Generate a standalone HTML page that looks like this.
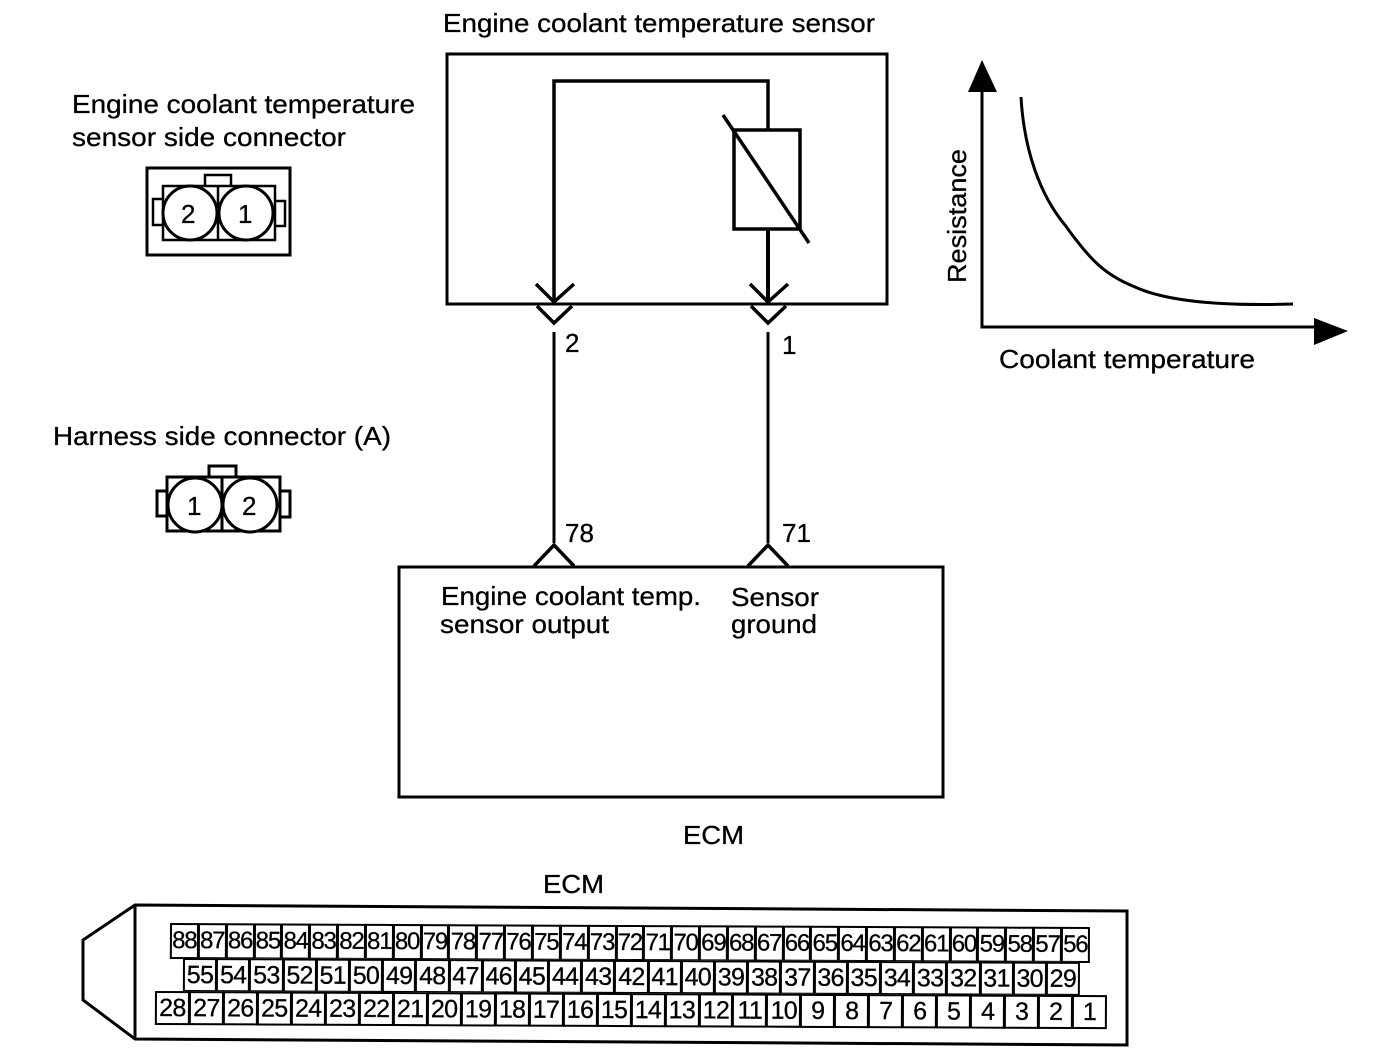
<!DOCTYPE html>
<html><head><meta charset="utf-8"><style>
html,body{margin:0;padding:0;background:#fff}
#p{position:relative;width:1392px;height:1058px;overflow:hidden;background:#fff;font-family:"Liberation Sans",sans-serif;color:#000}
svg{position:absolute;left:0;top:0}
text{font-family:"Liberation Sans",sans-serif;fill:#000;stroke:#000;stroke-width:.3px}
.r{position:absolute;display:flex;transform:rotate(.25deg);transform-origin:0 0;background:#fff}
.r div{flex:1 1 0;box-sizing:border-box;border:2px solid #000;margin-right:-1px;display:flex;align-items:center;justify-content:center;letter-spacing:-.5px;-webkit-text-stroke:.3px #000}
.a div{font-size:24px;letter-spacing:-1.2px}
.b div,.c div{font-size:25px;letter-spacing:-.7px}
</style></head><body><div id="p">
<svg width="1392" height="1058" viewBox="0 0 1392 1058">
<g fill="none" stroke="#000" stroke-width="3">
<rect x="447" y="54" width="440" height="250"/>
<path d="M554 304V81H768V130" stroke-width="3.5"/>
<rect x="734" y="130" width="66" height="99" stroke-width="3.5"/>
<path d="M723 115L809 243" stroke-width="3.5"/>
<path d="M768 229V304" stroke-width="4"/>
<path d="M536 284L554 302L574 284M537 306L554 323L572 306M750 284L768 302L788 284M751 306L768 323L786 306" stroke-width="3.5"/>
<path d="M554 332V543M768 332V543"/>
<path d="M534 566L554 545L574 566M748 566L768 545L788 566" stroke-width="3.5"/>
<rect x="399" y="567" width="544" height="230"/>
<path d="M982 90V327H1316"/>
<path d="M1021 97C1024 150 1040 195 1065 225C1090 260 1105 275 1135 287C1170 303 1230 306 1293 304" stroke-width="3"/>
<rect x="147" y="168" width="143" height="87"/>
<rect x="163" y="186" width="112" height="54" stroke-width="2.5"/>
<path d="M218 186V240M205 186V175H231V186M163 199H153V225H163M275 201H285V226H275" stroke-width="2.5"/>
<circle cx="190" cy="213" r="27" fill="#fff"/><circle cx="246" cy="213" r="27" fill="#fff"/>
<rect x="167" y="477" width="113" height="54" stroke-width="3"/>
<path d="M222 477V531M209 477V466H236V477M167 491H157V516H167M280 491H290V517H280" stroke-width="3"/>
<circle cx="195" cy="505" r="27" fill="#fff"/><circle cx="250" cy="505" r="27" fill="#fff"/>
<path d="M135 905L1127 911V1045L135 1039L83 1000V940ZM135 905V1039"/>
</g>
<path d="M982 60L968 92H997Z"/><path d="M1348 331L1314 318V345Z"/>
<g font-size="26">
<text x="443" y="32" textLength="432" lengthAdjust="spacingAndGlyphs">Engine coolant temperature sensor</text>
<text x="72" y="113" textLength="343" lengthAdjust="spacingAndGlyphs">Engine coolant temperature</text>
<text x="72" y="146" textLength="274" lengthAdjust="spacingAndGlyphs">sensor side connector</text>
<text x="53" y="445" textLength="338" lengthAdjust="spacingAndGlyphs">Harness side connector (A)</text>
<text x="999" y="368" textLength="256" lengthAdjust="spacingAndGlyphs">Coolant temperature</text>
<text transform="translate(966 283) rotate(-90)" textLength="134" lengthAdjust="spacingAndGlyphs">Resistance</text>
<text x="441" y="605" textLength="260" lengthAdjust="spacingAndGlyphs">Engine coolant temp.</text>
<text x="440" y="633" textLength="169" lengthAdjust="spacingAndGlyphs">sensor output</text>
<text x="731" y="606" textLength="88" lengthAdjust="spacingAndGlyphs">Sensor</text>
<text x="731" y="633" textLength="86" lengthAdjust="spacingAndGlyphs">ground</text>
<text x="683" y="844" textLength="61" lengthAdjust="spacingAndGlyphs">ECM</text>
<text x="543" y="893" textLength="61" lengthAdjust="spacingAndGlyphs">ECM</text>
<text x="565" y="352">2</text><text x="782" y="354">1</text>
<text x="565" y="542">78</text><text x="782" y="542">71</text>
<text x="181" y="223">2</text><text x="238" y="223">1</text>
<text x="187" y="515">1</text><text x="242" y="515">2</text>
</g>
</svg>
<div class="r a" style="left:170px;top:923px;width:919px;height:36px"><div>88</div><div>87</div><div>86</div><div>85</div><div>84</div><div>83</div><div>82</div><div>81</div><div>80</div><div>79</div><div>78</div><div>77</div><div>76</div><div>75</div><div>74</div><div>73</div><div>72</div><div>71</div><div>70</div><div>69</div><div>68</div><div>67</div><div>66</div><div>65</div><div>64</div><div>63</div><div>62</div><div>61</div><div>60</div><div>59</div><div>58</div><div>57</div><div>56</div></div>
<div class="r b" style="left:183px;top:958px;width:896px;height:34px"><div>55</div><div>54</div><div>53</div><div>52</div><div>51</div><div>50</div><div>49</div><div>48</div><div>47</div><div>46</div><div>45</div><div>44</div><div>43</div><div>42</div><div>41</div><div>40</div><div>39</div><div>38</div><div>37</div><div>36</div><div>35</div><div>34</div><div>33</div><div>32</div><div>31</div><div>30</div><div>29</div></div>
<div class="r c" style="left:155px;top:991px;width:951px;height:34px"><div>28</div><div>27</div><div>26</div><div>25</div><div>24</div><div>23</div><div>22</div><div>21</div><div>20</div><div>19</div><div>18</div><div>17</div><div>16</div><div>15</div><div>14</div><div>13</div><div>12</div><div>11</div><div>10</div><div>9</div><div>8</div><div>7</div><div>6</div><div>5</div><div>4</div><div>3</div><div>2</div><div>1</div></div>
</div></body></html>
